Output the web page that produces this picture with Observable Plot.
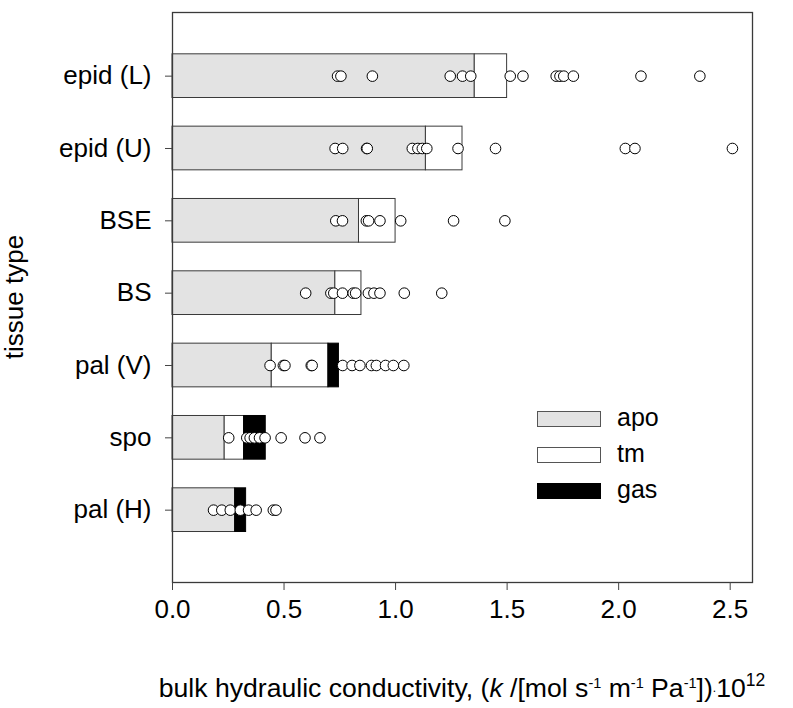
<!DOCTYPE html>
<html><head><meta charset="utf-8">
<script src="https://cdn.jsdelivr.net/npm/d3@7"></script>
<script src="https://cdn.jsdelivr.net/npm/@observablehq/plot@0.6"></script>
<style>
body{margin:0;background:#fff;font-family:"Liberation Sans",Arial,sans-serif;}
#wrap{position:relative;width:793px;height:708px;overflow:hidden;}
.xt{position:absolute;left:0;width:924px;top:673px;text-align:center;font-size:26.6px;color:#000;white-space:nowrap;}
.xt sup{font-size:14.5px;vertical-align:0.65em;line-height:0;}
.yt{position:absolute;left:14px;top:297px;font-size:26px;white-space:nowrap;transform:translate(-50%,-50%) rotate(-90deg);}
.leg{position:absolute;left:537px;font-size:25px;}
.leg .row{position:absolute;left:0;width:200px;height:20px;}
.leg .box{position:absolute;left:0;top:0;width:62px;height:14px;border:1px solid #555;}
.leg .lab{position:absolute;left:80px;top:-9px;line-height:30px;}
</style></head><body><div id="wrap"></div>
<script>
const tissues = ["epid (L)","epid (U)","BSE","BS","pal (V)","spo","pal (H)"];
const apo = [1.355,1.136,0.836,0.730,0.445,0.234,0.281];
const tm  = [0.145,0.164,0.164,0.117,0.254,0.087,0.000];
const gas = [0.000,0.000,0.000,0.000,0.047,0.097,0.049];
const ptsEpidL = [0.740,0.755,0.896,1.245,1.300,1.337,1.514,1.571,1.720,1.737,1.754,1.797,2.100,2.364];
const ptsEpidU = [0.729,0.763,0.870,0.873,1.075,1.100,1.120,1.140,1.280,1.448,2.030,2.073,2.510];
const ptsBSE   = [0.732,0.762,0.869,0.879,0.930,1.023,1.260,1.490];
const ptsBS    = [0.597,0.710,0.723,0.762,0.810,0.821,0.878,0.903,0.930,1.039,1.207];
const ptsPalV  = [0.4375,0.497,0.504,0.622,0.626,0.763,0.805,0.840,0.892,0.914,0.955,0.990,1.037];
const ptsSpo   = [0.252,0.333,0.348,0.367,0.390,0.415,0.487,0.594,0.661];
const ptsPalH  = [0.184,0.221,0.259,0.304,0.341,0.375,0.452,0.464];
const pointSets = [ptsEpidL,ptsEpidU,ptsBSE,ptsBS,ptsPalV,ptsSpo,ptsPalH];
const xTicks = [0,0.5,1.0,1.5,2.0,2.5];

const pos = i => tissues.length - i;
const segs = [];
tissues.forEach((t,i)=>{
  const a = apo[i], b = a + tm[i], c = b + gas[i];
  segs.push({t, p:pos(i), x1:0, x2:a, comp:"apo"});
  if (tm[i] > 0) segs.push({t, p:pos(i), x1:a, x2:b, comp:"tm"});
  if (gas[i] > 0) segs.push({t, p:pos(i), x1:b, x2:c, comp:"gas"});
});
const dots = [];
pointSets.forEach((arr,i)=>arr.forEach(v=>dots.push({t:tissues[i], p:pos(i), v})));
const fills = {apo:"#e3e3e3", tm:"#ffffff", gas:"#000000"};

const chart = Plot.plot({
  width:793, height:708,
  marginLeft:172, marginRight:41, marginTop:12, marginBottom:126,
  style:{fontFamily:"Liberation Sans, Arial, sans-serif", fontSize:"26px", color:"#000", background:"#fff"},
  x:{domain:[0,2.6]},
  y:{domain:[0,7.88]},
  marks:[
    Plot.rect(segs,{x1:"x1", x2:"x2", y1:d=>d.p-0.302, y2:d=>d.p+0.302,
      fill:d=>fills[d.comp], stroke:d=>d.comp==="gas"?"#000":"#3a3a3a", strokeWidth:1}),
    Plot.dot(dots,{x:"v", y:"p", r:5.3, fill:"#fff", stroke:"#000", strokeWidth:1}),
    Plot.frame({stroke:"#3a3a3a", strokeWidth:1.3}),
    Plot.axisX({ticks:xTicks, tickFormat:d3.format(".1f"), tickSize:8, tickPadding:9, label:null, stroke:"#444", fontSize:26}),
    Plot.axisY({ticks:[1,2,3,4,5,6,7], tickFormat:d=>tissues[tissues.length-d], tickSize:7, tickPadding:14, label:null, stroke:"#444", fontSize:26})
  ]
});
const wrap = document.getElementById("wrap");
wrap.appendChild(chart);

const xt = document.createElement("div");
xt.className = "xt";
xt.innerHTML = 'bulk hydraulic conductivity, (<i>k</i> /[mol s<sup>-1</sup> m<sup>-1</sup> Pa<sup>-1</sup>])<span style="position:relative;top:-0.45em;font-size:12px">.</span>10<sup style="font-size:17.5px">12</sup>';
wrap.appendChild(xt);

const yt = document.createElement("div");
yt.className = "yt";
yt.textContent = "tissue type";
wrap.appendChild(yt);

const leg = document.createElement("div");
leg.className = "leg";
leg.style.top = "0px";
const legItems = [["apo",411],["tm",447],["gas",483]];
legItems.forEach(([k,top])=>{
  const r = document.createElement("div");
  r.className = "row"; r.style.top = top+"px";
  const b = document.createElement("div"); b.className = "box";
  b.style.background = fills[k];
  if (k==="gas") b.style.borderColor = "#000";
  const l = document.createElement("div"); l.className = "lab"; l.textContent = k;
  r.appendChild(b); r.appendChild(l); leg.appendChild(r);
});
wrap.appendChild(leg);
</script></body></html>
